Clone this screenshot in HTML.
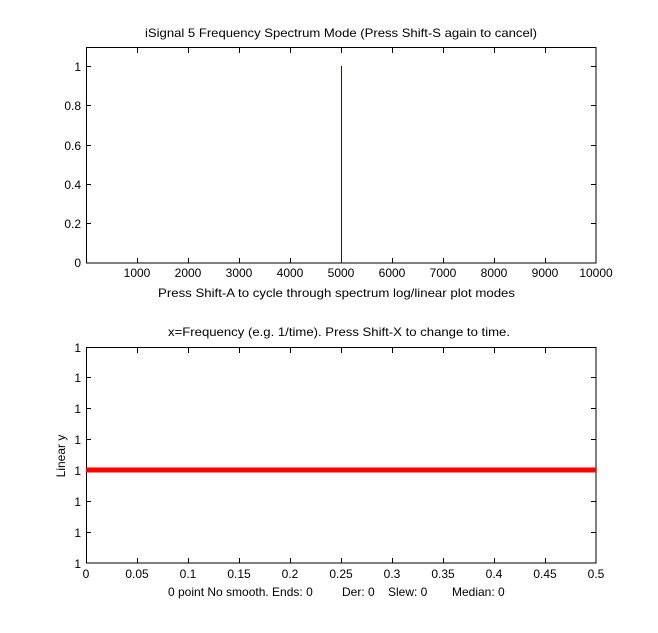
<!DOCTYPE html>
<html><head><style>body{margin:0;background:#fff}svg{display:block}text{font-family:"Liberation Sans",Arial,sans-serif;font-size:12px;fill:#000;white-space:pre}</style></head><body>
<svg width="658" height="633" xmlns="http://www.w3.org/2000/svg">
<rect width="658" height="633" fill="#fff"/>
<text x="145" y="37" textLength="392" lengthAdjust="spacingAndGlyphs">iSignal 5 Frequency Spectrum Mode (Press Shift-S again to cancel)</text>
<rect x="86.5" y="47.5" width="509.5" height="215.5" fill="none" stroke="#000"/>
<g stroke="#000">
<line x1="137.5" y1="263" x2="137.5" y2="258"/><line x1="137.5" y1="48" x2="137.5" y2="53"/>
<line x1="188.5" y1="263" x2="188.5" y2="258"/><line x1="188.5" y1="48" x2="188.5" y2="53"/>
<line x1="239.5" y1="263" x2="239.5" y2="258"/><line x1="239.5" y1="48" x2="239.5" y2="53"/>
<line x1="290.5" y1="263" x2="290.5" y2="258"/><line x1="290.5" y1="48" x2="290.5" y2="53"/>
<line x1="341.5" y1="263" x2="341.5" y2="258"/><line x1="341.5" y1="48" x2="341.5" y2="53"/>
<line x1="392.5" y1="263" x2="392.5" y2="258"/><line x1="392.5" y1="48" x2="392.5" y2="53"/>
<line x1="443.5" y1="263" x2="443.5" y2="258"/><line x1="443.5" y1="48" x2="443.5" y2="53"/>
<line x1="494.5" y1="263" x2="494.5" y2="258"/><line x1="494.5" y1="48" x2="494.5" y2="53"/>
<line x1="545.5" y1="263" x2="545.5" y2="258"/><line x1="545.5" y1="48" x2="545.5" y2="53"/>
<line x1="86" y1="66.5" x2="91" y2="66.5"/><line x1="596" y1="66.5" x2="591" y2="66.5"/>
<line x1="86" y1="105.5" x2="91" y2="105.5"/><line x1="596" y1="105.5" x2="591" y2="105.5"/>
<line x1="86" y1="145.5" x2="91" y2="145.5"/><line x1="596" y1="145.5" x2="591" y2="145.5"/>
<line x1="86" y1="184.5" x2="91" y2="184.5"/><line x1="596" y1="184.5" x2="591" y2="184.5"/>
<line x1="86" y1="223.5" x2="91" y2="223.5"/><line x1="596" y1="223.5" x2="591" y2="223.5"/>
</g>
<g text-anchor="end">
<text x="81" y="71">1</text><text x="81" y="110">0.8</text><text x="81" y="150">0.6</text><text x="81" y="189">0.4</text><text x="81" y="228">0.2</text><text x="81" y="267">0</text>
</g>
<g text-anchor="middle">
<text x="137" y="277">1000</text><text x="188" y="277">2000</text><text x="239" y="277">3000</text><text x="290" y="277">4000</text><text x="341" y="277">5000</text><text x="392" y="277">6000</text><text x="443" y="277">7000</text><text x="494" y="277">8000</text><text x="545" y="277">9000</text><text x="596" y="277">10000</text>
</g>
<text x="158" y="297" textLength="357" lengthAdjust="spacingAndGlyphs">Press Shift-A to cycle through spectrum log/linear plot modes</text>
<rect x="341" y="66" width="1" height="197" fill="#0000ff"/>

<text x="168" y="336" textLength="342" lengthAdjust="spacingAndGlyphs">x=Frequency (e.g. 1/time). Press Shift-X to change to time.</text>
<rect x="86.5" y="347.5" width="509.5" height="215.5" fill="none" stroke="#000"/>
<g stroke="#000">
<line x1="137.5" y1="563" x2="137.5" y2="558"/><line x1="137.5" y1="348" x2="137.5" y2="353"/>
<line x1="188.5" y1="563" x2="188.5" y2="558"/><line x1="188.5" y1="348" x2="188.5" y2="353"/>
<line x1="239.5" y1="563" x2="239.5" y2="558"/><line x1="239.5" y1="348" x2="239.5" y2="353"/>
<line x1="290.5" y1="563" x2="290.5" y2="558"/><line x1="290.5" y1="348" x2="290.5" y2="353"/>
<line x1="341.5" y1="563" x2="341.5" y2="558"/><line x1="341.5" y1="348" x2="341.5" y2="353"/>
<line x1="392.5" y1="563" x2="392.5" y2="558"/><line x1="392.5" y1="348" x2="392.5" y2="353"/>
<line x1="443.5" y1="563" x2="443.5" y2="558"/><line x1="443.5" y1="348" x2="443.5" y2="353"/>
<line x1="494.5" y1="563" x2="494.5" y2="558"/><line x1="494.5" y1="348" x2="494.5" y2="353"/>
<line x1="545.5" y1="563" x2="545.5" y2="558"/><line x1="545.5" y1="348" x2="545.5" y2="353"/>
<line x1="86" y1="377.5" x2="91" y2="377.5"/><line x1="596" y1="377.5" x2="591" y2="377.5"/>
<line x1="86" y1="408.5" x2="91" y2="408.5"/><line x1="596" y1="408.5" x2="591" y2="408.5"/>
<line x1="86" y1="439.5" x2="91" y2="439.5"/><line x1="596" y1="439.5" x2="591" y2="439.5"/>
<line x1="86" y1="470.5" x2="91" y2="470.5"/><line x1="596" y1="470.5" x2="591" y2="470.5"/>
<line x1="86" y1="501.5" x2="91" y2="501.5"/><line x1="596" y1="501.5" x2="591" y2="501.5"/>
<line x1="86" y1="532.5" x2="91" y2="532.5"/><line x1="596" y1="532.5" x2="591" y2="532.5"/>
</g>
<g text-anchor="end">
<text x="81" y="352">1</text><text x="81" y="382">1</text><text x="81" y="413">1</text><text x="81" y="444">1</text><text x="81" y="475">1</text><text x="81" y="506">1</text><text x="81" y="537">1</text><text x="81" y="568">1</text>
</g>
<g text-anchor="middle">
<text x="86" y="578">0</text><text x="137" y="578">0.05</text><text x="188" y="578">0.1</text><text x="239" y="578">0.15</text><text x="290" y="578">0.2</text><text x="341" y="578">0.25</text><text x="392" y="578">0.3</text><text x="443" y="578">0.35</text><text x="494" y="578">0.4</text><text x="545" y="578">0.45</text><text x="596" y="578">0.5</text>
</g>
<text y="596"><tspan x="168">0 point No smooth. Ends: 0</tspan><tspan x="342">Der: 0</tspan><tspan x="388">Slew: 0</tspan><tspan x="452">Median: 0</tspan></text>
<text transform="translate(65,456) rotate(-90)" text-anchor="middle">Linear y</text>
<line x1="86" y1="470" x2="596" y2="470" stroke="#f00" stroke-width="5"/>
</svg>
</body></html>
